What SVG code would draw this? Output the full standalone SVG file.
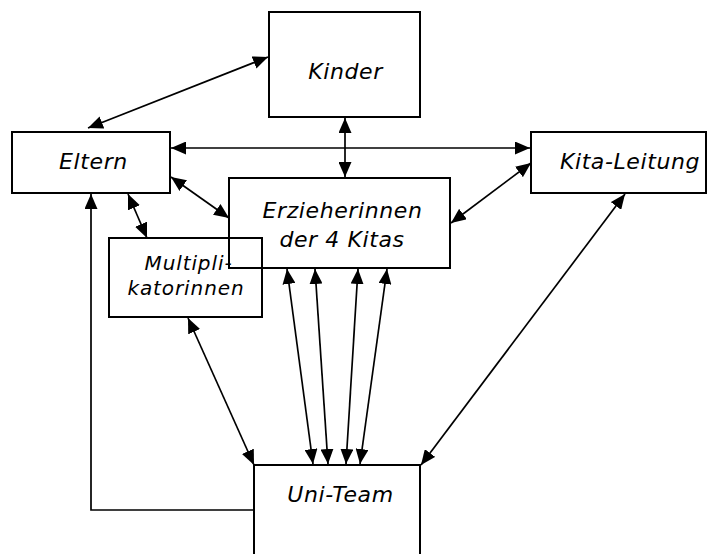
<svg xmlns="http://www.w3.org/2000/svg" width="718" height="554" viewBox="0 0 718 554">
<style>
.box{fill:none;stroke:#000;stroke-width:2}
.lbl{font-family:"DejaVu Sans",Verdana,sans-serif;font-style:italic;font-size:22px;letter-spacing:0.6px;text-anchor:middle;fill:#000}
.sm{font-size:20px;letter-spacing:0.9px}
.con{fill:none;stroke:#000;stroke-width:1.7}
.bi{marker-start:url(#ah);marker-end:url(#ah)}
.one{marker-end:url(#ah)}
</style>
<defs>
<marker id="ah" viewBox="0 0 15 13" refX="15" refY="6.5" markerWidth="15" markerHeight="13" markerUnits="userSpaceOnUse" orient="auto-start-reverse">
<path d="M0,0 L15,6.5 L0,13 z" fill="#000"/>
</marker>
</defs>
<rect width="718" height="554" fill="#fff"/>
<g id="connectors">
<line class="con bi" x1="88" y1="128" x2="268" y2="57"/>
<line class="con bi" x1="171" y1="148" x2="530" y2="148"/>
<line class="con bi" x1="345" y1="118" x2="345" y2="177"/>
<line class="con bi" x1="171" y1="177" x2="229" y2="218"/>
<line class="con bi" x1="128" y1="194" x2="147" y2="238"/>
<line class="con bi" x1="451" y1="223" x2="531" y2="163"/>
<line class="con bi" x1="625" y1="194" x2="421" y2="465"/>
<line class="con bi" x1="188" y1="318" x2="254" y2="465"/>
<line class="con bi" x1="287" y1="269" x2="313" y2="464"/>
<line class="con bi" x1="315" y1="269" x2="328" y2="464"/>
<line class="con bi" x1="358" y1="269" x2="346" y2="464"/>
<line class="con bi" x1="387" y1="269" x2="360" y2="464"/>
<polyline class="con one" points="254,510 91,510 91,194"/>
</g>
<g id="kinder">
<rect class="box" x="269" y="12" width="151" height="105"/>
<text class="lbl" x="345.5" y="79">Kinder</text>
</g>
<g id="eltern">
<rect class="box" x="12" y="132" width="158" height="61"/>
<text class="lbl" x="93.5" y="169">Eltern</text>
</g>
<g id="kita-leitung">
<rect class="box" x="531" y="132" width="175" height="61"/>
<text class="lbl" x="630" y="169">Kita-Leitung</text>
</g>
<g id="erzieherinnen">
<rect class="box" x="229" y="178" width="221" height="90"/>
<text class="lbl" x="342.5" y="218">Erzieherinnen</text>
<text class="lbl" x="342" y="247">der 4 Kitas</text>
</g>
<g id="multiplikatorinnen">
<rect class="box" x="109" y="238" width="153" height="79"/>
<text class="lbl sm" x="188.5" y="270">Multipli-</text>
<text class="lbl sm" x="186" y="295">katorinnen</text>
</g>
<g id="uni-team">
<rect class="box" x="254" y="465" width="166" height="100"/>
<text class="lbl" x="340.5" y="502">Uni-Team</text>
</g>
</svg>
